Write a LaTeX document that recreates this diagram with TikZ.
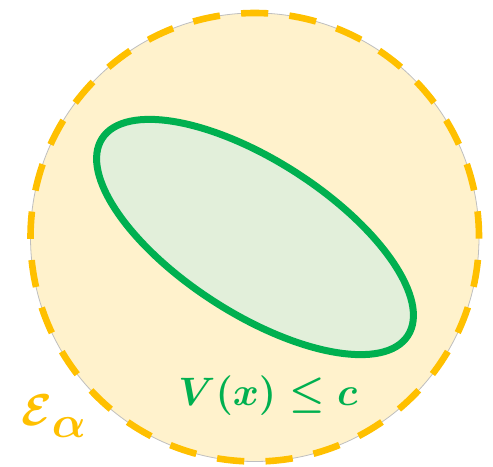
\documentclass[tikz,border=0pt]{standalone}
\usepackage{amsmath}
\usepackage{graphicx}
\definecolor{cfill}{HTML}{FFF2CC}
\definecolor{cgold}{HTML}{FFC000}
\definecolor{cgray}{HTML}{BFBFBF}
\definecolor{egreen}{HTML}{00B050}
\definecolor{efill}{HTML}{E2EFDA}
\tikzset{
  circlefill/.style={fill=cfill, draw=cgray, line width=0.8bp},
  circledash/.style={draw=cgold, line width=6.6bp, dash pattern=on 27.3bp off 21.3bp, dash phase=13.65bp},
  setshape/.style={draw=egreen, fill=efill, line width=7bp},
  bigmath/.style={inner sep=0pt, font=\Huge\boldmath}
}
\begin{document}
\begin{tikzpicture}[x=1bp, y=-1bp]
\useasboundingbox (0,0) rectangle (493,467);
\coordinate (c) at (254.75,237.25);
\fill[circlefill] (c) circle[radius=224.25bp];
\draw[circledash] (254.75,13) arc[start angle=90, end angle=450, radius=224.25bp];
\draw[setshape, rotate around={-32.8:(255,237)}] (255,237) ellipse[x radius=181.9bp, y radius=76.4bp];
\node[bigmath, text=egreen, anchor=base] (lv) at (268,405) {\scalebox{1.6}{$V(x)\leq c$}};
\node[bigmath, text=cgold, anchor=base west] (ea) at (21,425) {\scalebox{1.8}{$\mathcal{E}\lower7pt\hbox{$\alpha$}$}};
\end{tikzpicture}
\end{document}
